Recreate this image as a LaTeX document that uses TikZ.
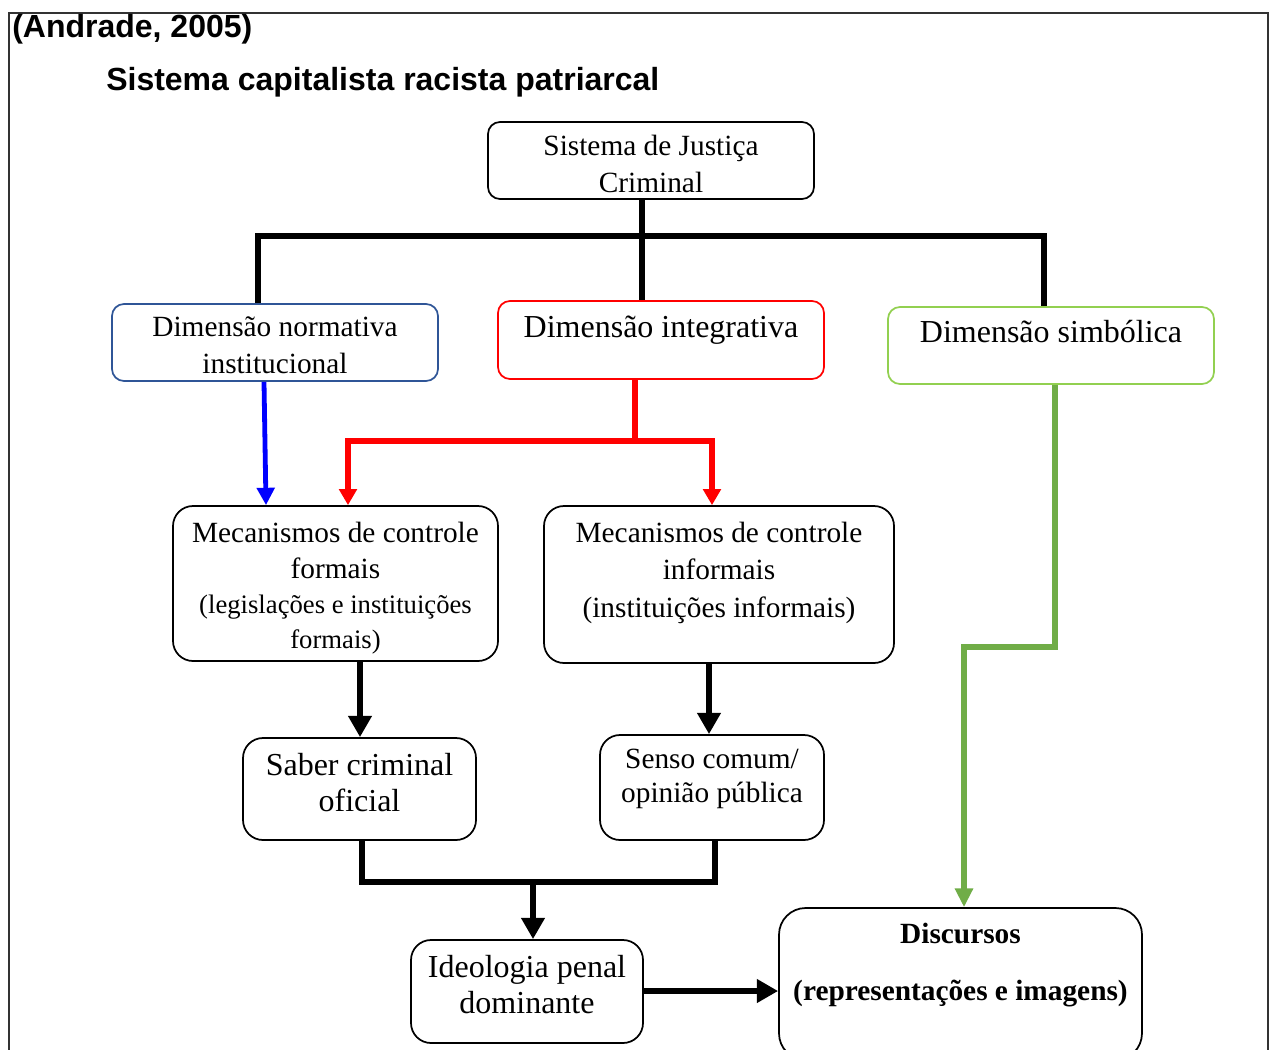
\documentclass[tikz,border=0pt]{standalone}
\usepackage{fontspec}
\setmainfont{Liberation Serif}
\newfontfamily\sansfam{Liberation Sans}
\usetikzlibrary{arrows.meta,fit}
\definecolor{nblue}{HTML}{2F5597}
\definecolor{igreen}{HTML}{92D050}
\definecolor{agreen}{HTML}{70AD47}
\definecolor{ablue}{HTML}{0000FF}
\definecolor{ared}{HTML}{FF0000}
\definecolor{framec}{HTML}{333333}
\begin{document}
\begin{tikzpicture}[x=0.75pt,y=-0.75pt,
  box/.style={draw=#1, line width=1.3pt, rounded corners=9pt, inner sep=0pt},
  box/.default=black,
  rbox/.style={box, rounded corners=15pt},
  tA/.style={font=\fontsize{22}{26}\selectfont, anchor=base, inner sep=0pt},
  tB/.style={font=\fontsize{24}{28}\selectfont, anchor=base, inner sep=0pt},
  tC/.style={font=\fontsize{20}{24}\selectfont, anchor=base, inner sep=0pt},
  tD/.style={font=\fontsize{22}{26}\selectfont\bfseries, anchor=base, inner sep=0pt},
  hd/.style={font=\sansfam\fontsize{24}{28}\selectfont\bfseries, anchor=base west, inner sep=0pt},
  blk/.style={line width=4.5pt, draw=black},
  blkarr/.style={blk, -{Triangle[width=17pt,length=16pt]}},
  bluearr/.style={line width=3.6pt, draw=ablue, -{Triangle[width=13pt,length=13pt]}},
  redarr/.style={line width=4pt, draw=ared, -{Triangle[width=13pt,length=12pt]}},
  grnarr/.style={line width=4pt, draw=agreen, -{Triangle[width=13pt,length=14pt]}},
  frame/.style={line width=1.5pt, draw=framec}
]
\useasboundingbox (0,0) rectangle (1275,1050);
\fill[white] (0,0) rectangle (1275,1050);

% frame
\draw[frame] (9,1060) -- (9,13) -- (1268,13) -- (1268,1060);

% headings
\node[hd] (src) at (12,37) {(Andrade, 2005)};
\node[hd] (title) at (106,90) {Sistema capitalista racista patriarcal};

% boxes
\node[box, fit={(488,122) (814,199)}] (sjc) {};
\node[box=nblue, fit={(112,304) (438,381)}] (norm) {};
\node[box=ared, fit={(498,301) (824,379)}] (integ) {};
\node[box=igreen, fit={(888,307) (1214,384)}] (simb) {};
\node[rbox, fit={(173,506) (498,661)}] (formais) {};
\node[rbox, fit={(544,506) (894,663)}] (informais) {};
\node[rbox, fit={(243,738) (476,840)}] (saber) {};
\node[rbox, fit={(600,735) (824,840)}] (senso) {};
\node[rbox, fit={(411,940) (643,1043)}] (ideo) {};
\node[rbox, rounded corners=20pt, fit={(779,908) (1142,1060)}] (disc) {};

% texts
\node[tA] (sjc1) at (651,155) {Sistema de Justiça};
\node[tA] (sjc2) at (651,192) {Criminal};
\node[tA] (norm1) at (275,336) {Dimensão normativa};
\node[tA] (norm2) at (275,373) {institucional};
\node[tB] (integ1) at (661,337) {Dimensão integrativa};
\node[tB] (simb1) at (1051,342) {Dimensão simbólica};
\node[tA] (form1) at (335.5,542) {Mecanismos de controle};
\node[tA] (form2) at (335.5,578) {formais};
\node[tC] (form3) at (335.5,613) {(legislações e instituições};
\node[tC] (form4) at (335.5,648) {formais)};
\node[tA] (inf1) at (719,542) {Mecanismos de controle};
\node[tA] (inf2) at (719,579) {informais};
\node[tA] (inf3) at (719,617) {(instituições informais)};
\node[tB] (sab1) at (359.5,775) {Saber criminal};
\node[tB] (sab2) at (359.5,811) {oficial};
\node[tA] (sen1) at (712,768) {Senso comum/};
\node[tA] (sen2) at (712,802) {opinião pública};
\node[tB] (ide1) at (527,977) {Ideologia penal};
\node[tB] (ide2) at (527,1013) {dominante};
\node[tD] (dis1) at (960.5,943) {Discursos};
\node[tD] (dis2) at (960.5,1000) {(representações e imagens)};

% connectors
\draw[blk] (642,0 |- sjc.south) -- (642,0 |- integ.north);
\draw[blk] (258,0 |- norm.north) -- (258,236) -- (1044,236) -- (1044,0 |- simb.north);

\draw[bluearr] (264,0 |- norm.south) -- (266,0 |- formais.north);

\coordinate (redsplit) at (635,441);
\draw[redarr] (635,0 |- integ.south) -- (redsplit) -- (348,441) -- (348,0 |- formais.north);
\draw[redarr] (redsplit) -- (712,441) -- (712,0 |- informais.north);

\draw[blkarr] (360,0 |- formais.south) -- (360,0 |- saber.north);
\draw[blkarr] (709,0 |- informais.south) -- (709,0 |- senso.north);

\coordinate (join) at (533,882);
\draw[blk] (362,0 |- saber.south) -- (362,882) -- (715,882) -- (715,0 |- senso.south);
\draw[blkarr] (join) -- (533,0 |- ideo.north);

\draw[blkarr] (ideo.east |- 0,991) -- (disc.west |- 0,991);

\draw[grnarr] (1055,0 |- simb.south) -- (1055,647) -- (964,647) -- (964,0 |- disc.north);
\end{tikzpicture}
\end{document}
